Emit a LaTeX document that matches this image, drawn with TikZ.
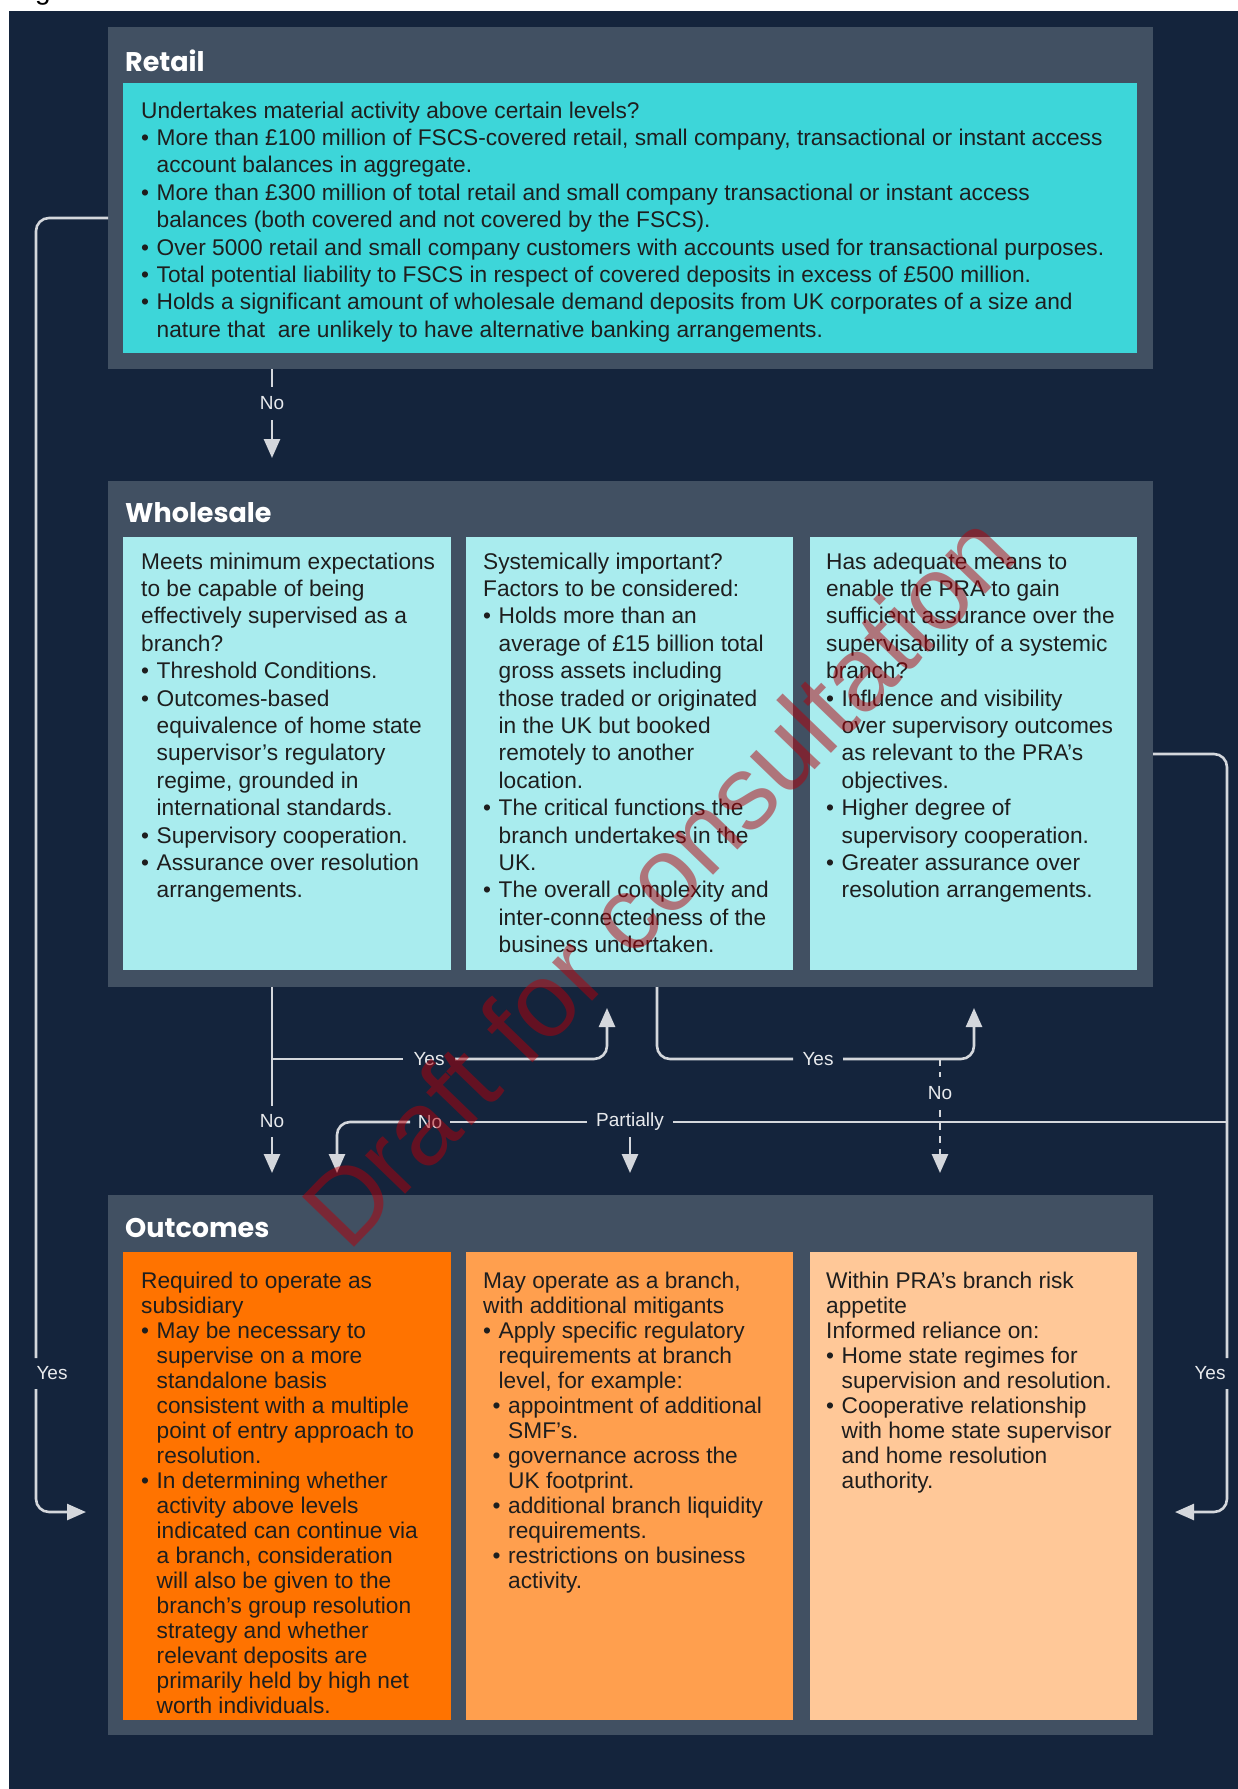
\documentclass[tikz,border=0pt]{standalone}
\usepackage{fontspec}
\setmainfont{Liberation Sans}
\newfontfamily\titlefont{Poppins}
\usetikzlibrary{arrows.meta}
\definecolor{navy}{HTML}{14243C}
\definecolor{panelgray}{HTML}{415062}
\definecolor{retailcyan}{HTML}{3DD6D9}
\definecolor{lightcyan}{HTML}{A9ECEE}
\definecolor{orangeA}{HTML}{FF7300}
\definecolor{orangeB}{HTML}{FF9F4E}
\definecolor{peach}{HTML}{FFC898}
\definecolor{connc}{HTML}{D4D7DC}
\definecolor{lblc}{HTML}{E8EAED}
\definecolor{bodytext}{HTML}{1E1E1E}
\definecolor{wmred}{HTML}{B4000A}
\newcommand{\bulitem}{\makebox[15.5pt][l]{\textbullet}}
\newcommand{\indnt}{\hspace*{15.5pt}}
\newcommand{\subbul}{\hspace*{9.5pt}\makebox[15.5pt][l]{\textbullet}}
\newcommand{\subind}{\hspace*{25pt}}
\begin{document}
\begin{tikzpicture}[x=1pt,y=-1pt,
  panel/.style={fill=panelgray,inner sep=0,outer sep=0,anchor=north west,draw=none},
  card/.style={inner sep=0,outer sep=0,anchor=north west,draw=none},
  title/.style={anchor=base west,inner sep=0,text=white,font=\titlefont\bfseries\fontsize{27}{30}\selectfont},
  txt/.style={anchor=base west,inner sep=0,text=bodytext,font=\fontsize{22.7}{27.4}\selectfont},
  otxt/.style={anchor=base west,inner sep=0,text=bodytext,font=\fontsize{22.7}{25}\selectfont},
  lbl/.style={inner sep=0,outer sep=0,text=lblc,font=\fontsize{19}{22}\selectfont},
  conn/.style={draw=connc,line width=2.6pt,rounded corners=13pt},
  arr/.style={-{Triangle[width=16pt,length=19pt]}},
]
\useasboundingbox (0,0) rectangle (1238,1789);
\fill[white] (0,0) rectangle (1238,1789);
\fill[navy] (9,11) rectangle (1238,1789);
\node[anchor=base west,inner sep=0,font=\fontsize{28}{30}\selectfont] (gfrag) at (35,-1) {g};

% ---------- panels ----------
\node[panel,minimum width=1045pt,minimum height=342pt] (retailP) at (108,27) {};
\node[card,fill=retailcyan,minimum width=1014pt,minimum height=270pt] (retailB) at (123,83) {};
\node[panel,minimum width=1045pt,minimum height=506pt] (wholeP) at (108,481) {};
\node[card,fill=lightcyan,minimum width=328pt,minimum height=433pt] (wb1) at (123,537) {};
\node[card,fill=lightcyan,minimum width=327pt,minimum height=433pt] (wb2) at (466,537) {};
\node[card,fill=lightcyan,minimum width=327pt,minimum height=433pt] (wb3) at (810,537) {};
\node[panel,minimum width=1045pt,minimum height=540pt] (outP) at (108,1195) {};
\node[card,fill=orangeA,minimum width=328pt,minimum height=468pt] (ob1) at (123,1252) {};
\node[card,fill=orangeB,minimum width=327pt,minimum height=468pt] (ob2) at (466,1252) {};
\node[card,fill=peach,minimum width=327pt,minimum height=468pt] (ob3) at (810,1252) {};

% ---------- titles ----------
\node[title] (tRetail) at (125,71) {Retail};
\node[title] (tWhole) at (125,522) {Wholesale};
\node[title] (tOut) at (125,1237) {Outcomes};

% ---------- texts ----------
\node[txt] (retailT) at (141,118) {\begin{minipage}[t]{1000pt}
Undertakes material activity above certain levels?\\
\bulitem More than £100 million of FSCS-covered retail, small company, transactional or instant access\\
\indnt account balances in aggregate.\\
\bulitem More than £300 million of total retail and small company transactional or instant access\\
\indnt balances (both covered and not covered by the FSCS).\\
\bulitem Over 5000 retail and small company customers with accounts used for transactional purposes.\\
\bulitem Total potential liability to FSCS in respect of covered deposits in excess of £500 million.\\
\bulitem Holds a significant amount of wholesale demand deposits from UK corporates of a size and\\
\indnt nature that\ \ are unlikely to have alternative banking arrangements.
\end{minipage}};

\node[txt] (wt1) at (141,569) {\begin{minipage}[t]{400pt}
Meets minimum expectations\\
to be capable of being\\
effectively supervised as a\\
branch?\\
\bulitem Threshold Conditions.\\
\bulitem Outcomes-based\\
\indnt equivalence of home state\\
\indnt supervisor’s regulatory\\
\indnt regime, grounded in\\
\indnt international standards.\\
\bulitem Supervisory cooperation.\\
\bulitem Assurance over resolution\\
\indnt arrangements.
\end{minipage}};

\node[txt] (wt2) at (483,569) {\begin{minipage}[t]{400pt}
Systemically important?\\
Factors to be considered:\\
\bulitem Holds more than an\\
\indnt average of £15 billion total\\
\indnt gross assets including\\
\indnt those traded or originated\\
\indnt in the UK but booked\\
\indnt remotely to another\\
\indnt location.\\
\bulitem The critical functions the\\
\indnt branch undertakes in the\\
\indnt UK.\\
\bulitem The overall complexity and\\
\indnt inter-connectedness of the\\
\indnt business undertaken.
\end{minipage}};

\node[txt] (wt3) at (826,569) {\begin{minipage}[t]{400pt}
Has adequate means to\\
enable the PRA to gain\\
sufficient assurance over the\\
supervisability of a systemic\\
branch?\\
\bulitem Influence and visibility\\
\indnt over supervisory outcomes\\
\indnt as relevant to the PRA’s\\
\indnt objectives.\\
\bulitem Higher degree of\\
\indnt supervisory cooperation.\\
\bulitem Greater assurance over\\
\indnt resolution arrangements.
\end{minipage}};

\node[otxt] (ot1) at (141,1288) {\begin{minipage}[t]{400pt}
Required to operate as\\
subsidiary\\
\bulitem May be necessary to\\
\indnt supervise on a more\\
\indnt standalone basis\\
\indnt consistent with a multiple\\
\indnt point of entry approach to\\
\indnt resolution.\\
\bulitem In determining whether\\
\indnt activity above levels\\
\indnt indicated can continue via\\
\indnt a branch, consideration\\
\indnt will also be given to the\\
\indnt branch’s group resolution\\
\indnt strategy and whether\\
\indnt relevant deposits are\\
\indnt primarily held by high net\\
\indnt worth individuals.
\end{minipage}};

\node[otxt] (ot2) at (483,1288) {\begin{minipage}[t]{400pt}
May operate as a branch,\\
with additional mitigants\\
\bulitem Apply specific regulatory\\
\indnt requirements at branch\\
\indnt level, for example:\\
\subbul appointment of additional\\
\subind SMF’s.\\
\subbul governance across the\\
\subind UK footprint.\\
\subbul additional branch liquidity\\
\subind requirements.\\
\subbul restrictions on business\\
\subind activity.
\end{minipage}};

\node[otxt] (ot3) at (826,1288) {\begin{minipage}[t]{400pt}
Within PRA’s branch risk\\
appetite\\
Informed reliance on:\\
\bulitem Home state regimes for\\
\indnt supervision and resolution.\\
\bulitem Cooperative relationship\\
\indnt with home state supervisor\\
\indnt and home resolution\\
\indnt authority.
\end{minipage}};

% ---------- connectors ----------
% Retail -> Wholesale (No)
\node[lbl,minimum height=33pt] (lNoA) at (272,403.5) {No};
\coordinate (tNoA) at (272,458);
\draw[conn] (retailP.south -| lNoA) -- (lNoA.north);
\draw[conn,arr] (lNoA.south) -- (tNoA);

% Wholesale box 1 -> No
\node[lbl,minimum height=31pt] (lNoB) at (272,1121.5) {No};
\coordinate (tNoB) at (272,1173);
\draw[conn] (wholeP.south -| lNoB) -- (lNoB.north);
\draw[conn,arr] (lNoB.south) -- (tNoB);

% Yes -> box 2
\node[lbl,minimum width=52pt] (lYesA) at (429,1059) {Yes};
\coordinate (tYesA) at (607,1008);
\draw[conn] (lNoB |- lYesA) -- (lYesA.west);
\draw[conn,arr] (lYesA.east) -- (tYesA |- lYesA) -- (tYesA);

% Yes -> box 3
\coordinate (cYesB) at (657,1059);
\node[lbl,minimum width=50pt] (lYesB) at (818,1059) {Yes};
\coordinate (tYesB) at (974,1008);
\draw[conn] (wholeP.south -| cYesB) -- (cYesB) -- (lYesB.west);
\draw[conn,arr] (lYesB.east) -- (tYesB |- lYesB) -- (tYesB);

% dashed No
\node[lbl,minimum height=33pt] (lNoC) at (940,1093.5) {No};
\coordinate (tNoC) at (940,1173);
\draw[conn,dash pattern=on 7pt off 6pt] (lNoC |- lYesB) -- (lNoC.north);
\draw[conn,arr,dash pattern=on 7pt off 6pt] (lNoC.south) -- (tNoC);

% right side Yes
\coordinate (cRtop) at (1227,754);
\coordinate (cR1) at (1227,1358);
\coordinate (cR2) at (1227,1389);
\coordinate (cRbot) at (1227,1512);
\coordinate (tR) at (1175,1512);
\node[lbl] (lYesR) at (1210,1373) {Yes};
\draw[conn] (wholeP.east |- cRtop) -- (cRtop) -- (cR1);
\draw[conn,arr] (cR2) -- (cRbot) -- (tR);

% Partially / No
\node[lbl,minimum width=86pt,minimum height=30pt] (lPart) at (630,1122) {Partially};
\node[lbl,minimum width=40pt] (lNoD) at (430,1122) {No};
\coordinate (tPart) at (630,1173);
\coordinate (tNoD) at (337,1173);
\draw[conn] (cRtop |- lPart) -- (lPart.east);
\draw[conn] (lPart.west) -- (lNoD.east);
\draw[conn,arr] (lNoD.west) -- (tNoD |- lNoD) -- (tNoD);
\draw[conn,arr] (lPart.south) -- (tPart);

% left side Yes
\coordinate (cLtop) at (36,218);
\coordinate (cL1) at (36,1358);
\coordinate (cL2) at (36,1389);
\coordinate (cLbot) at (36,1512);
\coordinate (tL) at (86,1512);
\node[lbl] (lYesL) at (52,1373) {Yes};
\draw[conn] (retailP.west |- cLtop) -- (cLtop) -- (cL1);
\draw[conn,arr] (cL2) -- (cLbot) -- (tL);

% ---------- watermark ----------
\node[rotate=46,anchor=base west,inner sep=0,text=wmred,text opacity=0.5,font=\fontsize{105}{110}\selectfont] (wm) at (348,1254) {Draft for consultation};
\end{tikzpicture}
\end{document}
